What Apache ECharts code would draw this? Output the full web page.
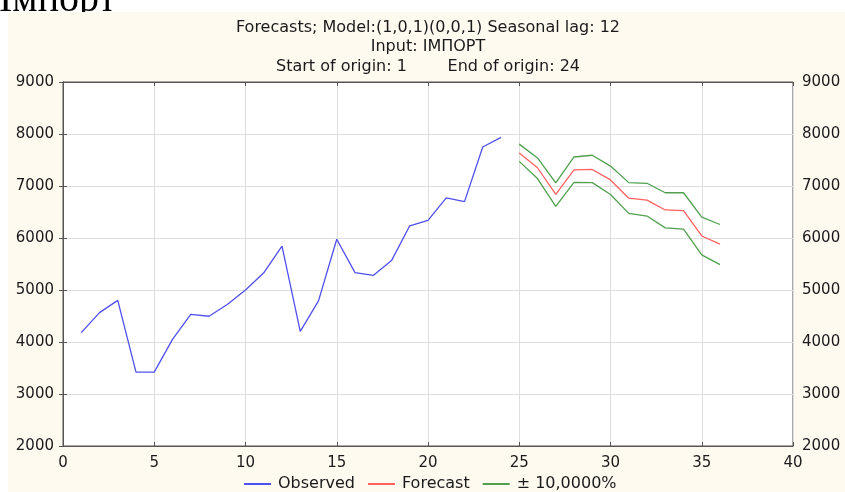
<!DOCTYPE html>
<html>
<head>
<meta charset="utf-8">
<script src="https://cdn.jsdelivr.net/npm/echarts@6/dist/echarts.min.js"></script>
<style>html,body{margin:0;padding:0;background:#fff;}#c{width:845px;height:492px;}</style>
</head>
<body>
<div id="c"></div>
<script>
const observedX = [1,2,3,4,5,6,7,8,9,10,11,12,13,14,15,16,17,18,19,20,21,22,23,24];
const observed = [4180,4565,4800,3420,3420,4050,4530,4495,4720,5000,5330,5845,4205,4790,5975,5335,5280,5565,6235,6340,6770,6700,7750,7935];
const forecastX = [25,26,27,28,29,30,31,32,33,34,35,36];
const forecast = [7636,7351,6838,7312,7318,7117,6766,6727,6539,6526,6039,5883];
const upper = [7805,7539,7058,7558,7591,7383,7065,7052,6870,6870,6403,6260];
const lower = [7474,7143,6610,7071,7065,6838,6474,6422,6195,6169,5675,5487];
const xTicks = {min:0, max:40, interval:5};
const yTicks = {min:2000, max:9000, interval:1000};
const titleLines = ['Forecasts; Model:(1,0,1)(0,0,1) Seasonal lag: 12','Input: IMПОРТ','Start of origin: 1        End of origin: 24'];
const names = ['Observed','Forecast','± 10,0000%'];

const pair = (xs, ys) => xs.map((x,i)=>[x,ys[i]]);
const font = 'DejaVu Sans';
const txt = '#1a1a1a';
const plain = v => String(v);
const lineSeries = (name, data, color) => ({
  name, type:'line', data, symbol:'none', xAxisIndex:0, yAxisIndex:0,
  lineStyle:{color, width:1.3}, itemStyle:{color}, animation:false, z:5
});
const axisBase = {
  z:4,
  axisLine:{show:true, lineStyle:{color:'#555'}},
  axisTick:{show:true, inside:true, length:4, lineStyle:{color:'#555'}}
};

const chart = echarts.init(document.getElementById('c'), null, {renderer:'canvas'});
chart.setOption({
  animation:false,
  backgroundColor:'#ffffff',
  graphic:[
    {type:'text', left:-1, top:-20, z:0,
      style:{text:'Імпорт', font:'40px "Liberation Serif"', fill:'#000'}},
    {type:'rect', shape:{x:8, y:12, width:837, height:480}, z:1,
      style:{fill:'#fefaf0'}, silent:true}
  ],
  title:{
    text:titleLines.join('\n'), left:428, top:18, padding:0, textAlign:'center',
    textStyle:{fontFamily:font, fontSize:16, fontWeight:'normal', color:txt, lineHeight:19.5}
  },
  legend:{
    bottom:0, left:244, padding:0, itemWidth:27, itemHeight:2, itemGap:13, icon:'rect',
    data:names,
    textStyle:{fontFamily:font, fontSize:16, color:txt, padding:[0,0,0,2]}
  },
  grid:{left:63, right:52, top:82, bottom:46, show:true, backgroundColor:'#ffffff', borderColor:'#555', borderWidth:1, z:2},
  xAxis:[
    Object.assign({type:'value', position:'bottom', min:xTicks.min, max:xTicks.max, interval:xTicks.interval,
      axisLabel:{fontFamily:font, fontSize:15, color:txt, margin:10, formatter:plain},
      splitLine:{show:true, lineStyle:{color:'#dedede'}}}, axisBase),
    Object.assign({type:'value', position:'top', min:xTicks.min, max:xTicks.max, interval:xTicks.interval,
      axisLabel:{show:false}, splitLine:{show:false}}, axisBase)
  ],
  yAxis:[
    Object.assign({type:'value', position:'left', min:yTicks.min, max:yTicks.max, interval:yTicks.interval,
      axisLabel:{fontFamily:font, fontSize:15, color:txt, margin:9, formatter:plain},
      splitLine:{show:true, lineStyle:{color:'#dedede'}}}, axisBase),
    Object.assign({type:'value', position:'right', min:yTicks.min, max:yTicks.max, interval:yTicks.interval,
      axisLabel:{fontFamily:font, fontSize:15, color:txt, margin:9, formatter:plain},
      splitLine:{show:false}}, axisBase)
  ],
  series:[
    lineSeries(names[0], pair(observedX, observed), '#5050f0'),
    lineSeries(names[1], pair(forecastX, forecast), '#ff6060'),
    lineSeries(names[2], pair(forecastX, upper), '#50a050'),
    lineSeries(names[2], pair(forecastX, lower), '#50a050')
  ]
});
</script>
</body>
</html>
